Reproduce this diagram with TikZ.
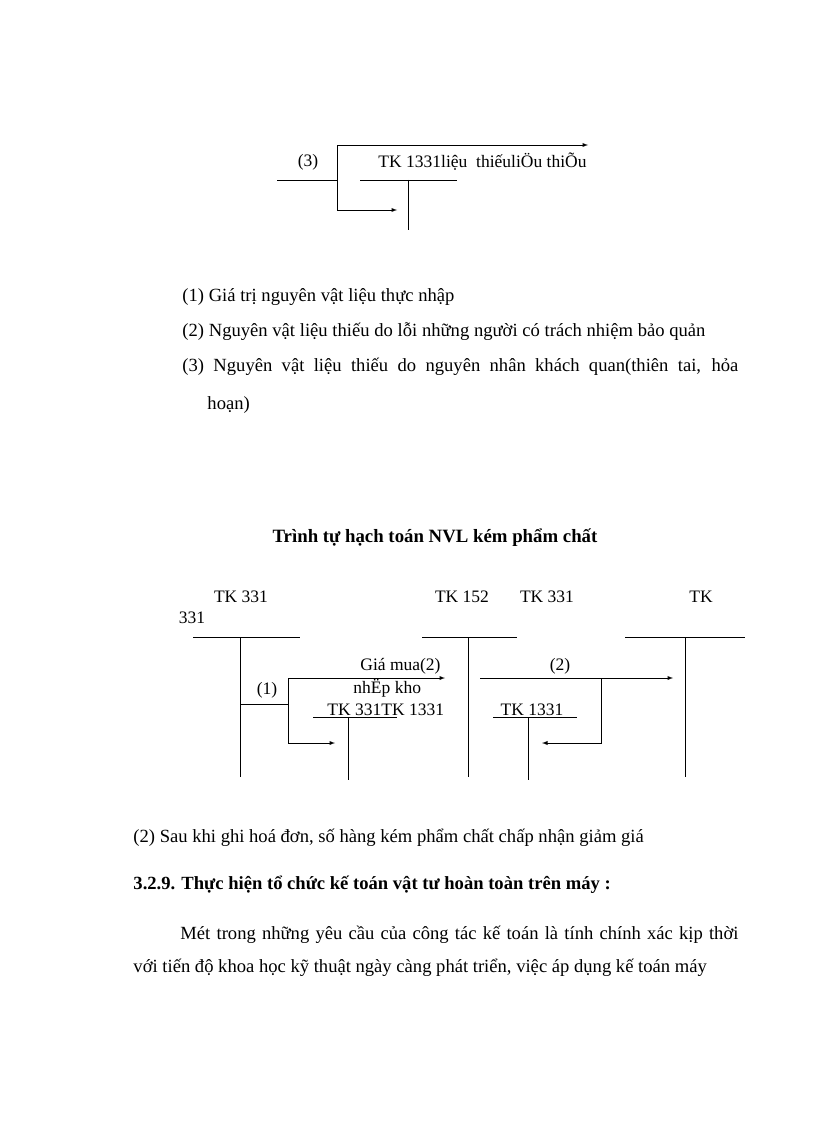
\documentclass[tikz,border=0pt]{standalone}
\usepackage{fontspec}
\setmainfont{Liberation Serif}
\usetikzlibrary{arrows}
\begin{document}
\begin{tikzpicture}[x=1pt,y=-1pt,line width=0.9pt,
  every node/.style={font=\fontsize{17.5}{21}\selectfont,inner sep=0pt},
  body/.style={anchor=west,font=\fontsize{18.6}{22}\selectfont}]
\useasboundingbox (0,0) rectangle (816,1123);
% so do TK 1331 (3)
\coordinate (a3l) at (277,180);
\coordinate (a3j) at (337,180);
\coordinate (a3t) at (337,145);
\coordinate (a3b) at (337,210);
\coordinate (a3e) at (588,145);
\coordinate (a3f) at (397,210);
\draw (a3l) -- (a3j);
\draw[->,>=latex] (a3j) -- (a3t) -- (a3e);
\draw[->,>=latex] (a3j) -- (a3b) -- (a3f);
\coordinate (t1331l) at (360,180);
\coordinate (t1331r) at (457,180);
\coordinate (t1331m) at (408,180);
\coordinate (t1331e) at (408,230);
\draw (t1331l) -- (t1331r);
\draw (t1331m) -- (t1331e);
\node (n3) at (308,162) {(3)};
\node[anchor=west] (k1331) at (378,162) {TK 1331liệu\ \ thiếuliÖu thiÕu};
% chu thich
\node[body] (c1) at (182,297) {(1) Giá trị nguyên vật liệu\ thực nhập};
\node[body] (c2) at (182,332) {\makebox[523pt][s]{(2) Nguyên vật liệu thiếu do lỗi những người có trách nhiệm bảo quản}};
\node[body] (c3) at (182,367) {\makebox[556pt][s]{(3) Nguyên vật liệu thiếu do nguyên nhân khách quan(thiên tai, hỏa}};
\node[body] (c4) at (207,405) {hoạn)};
% so do NVL kem pham chat
\node[font=\fontsize{18.8}{22}\selectfont\bfseries] (title) at (435,538) {Trình tự hạch toán NVL kém phẩm chất};
\node (k331a) at (241,597) {TK 331};
\node (k331b) at (192,618) {331};
\node (k152) at (462,597) {TK 152};
\node (k331c) at (547,597) {TK 331};
\node (ktk) at (701,597) {TK};
% tai khoan chu T
\coordinate (ta1) at (193,637); \coordinate (ta2) at (300,637);
\coordinate (ta3) at (240,637); \coordinate (ta4) at (240,777);
\coordinate (tb1) at (422,637); \coordinate (tb2) at (517,637);
\coordinate (tb3) at (468,637); \coordinate (tb4) at (468,777);
\coordinate (tc1) at (625,637); \coordinate (tc2) at (745,637);
\coordinate (tc3) at (685,637); \coordinate (tc4) at (685,777);
\coordinate (td1) at (313,717); \coordinate (td2) at (397,717);
\coordinate (td3) at (348,717); \coordinate (td4) at (348,780);
\coordinate (te1) at (493,717); \coordinate (te2) at (577,717);
\coordinate (te3) at (528,717); \coordinate (te4) at (528,780);
\foreach \t in {a,b,c,d,e}{
  \draw (t\t1) -- (t\t2);
  \draw (t\t3) -- (t\t4);
}
% (1)
\coordinate (p1l) at (240,704);
\coordinate (p1j) at (288,704);
\coordinate (p1t) at (288,678);
\coordinate (p1b) at (288,743);
\coordinate (p1e) at (445,678);
\coordinate (p1f) at (335,743);
\draw (p1l) -- (p1j);
\draw[->,>=latex] (p1j) -- (p1t) -- (p1e);
\draw[->,>=latex] (p1j) -- (p1b) -- (p1f);
\node (n1) at (267,690) {(1)};
\node[anchor=east] (gia) at (441,666) {Giá mua(2)};
\node[anchor=west] (nhap) at (353,688) {nhËp kho};
\node[anchor=west] (k331d) at (327,710) {TK 331TK 1331};
% (2)
\coordinate (p2s) at (480,678);
\coordinate (p2j) at (601,678);
\coordinate (p2e) at (673,678);
\coordinate (p2b) at (601,743);
\coordinate (p2f) at (542,743);
\draw[->,>=latex] (p2s) -- (p2e);
\draw[->,>=latex] (p2j) -- (p2b) -- (p2f);
\node (n2) at (560,666) {(2)};
\node (k1331b) at (532,710) {TK 1331};
% van ban
\node[body] (c5) at (133,838) {(2) Sau khi ghi hoá đơn, số hàng kém phẩm chất chấp nhận giảm giá};
\node[body,font=\fontsize{18.6}{22}\selectfont\bfseries] (h329) at (133,885) {3.2.9. Thực hiện tổ chức kế toán vật tư hoàn toàn trên máy :};
\node[body] (p1) at (180,935) {\makebox[558pt][s]{Mét trong những yêu cầu của công tác kế toán là tính chính xác kịp thời}};
\node[body] (p2) at (133,968) {với tiến độ khoa học kỹ thuật ngày càng phát triển, việc áp dụng kế toán máy};
\end{tikzpicture}
\end{document}
